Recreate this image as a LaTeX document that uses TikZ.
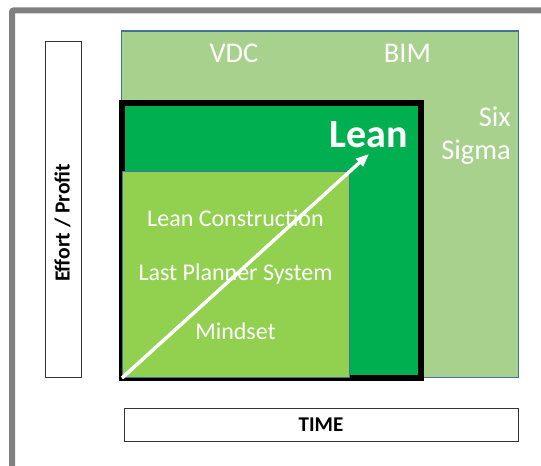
\documentclass[tikz,border=0pt]{standalone}
\usepackage{fontspec}
\setmainfont{Carlito}
\usetikzlibrary{arrows.meta}
\definecolor{frameGray}{HTML}{808080}
\definecolor{paleGreen}{HTML}{A9D18E}
\definecolor{leanGreen}{HTML}{00B050}
\definecolor{limeGreen}{HTML}{92D050}
\definecolor{edgeBlue}{HTML}{41719C}
\begin{document}
\begin{tikzpicture}[x=1pt,y=-1pt,
  labelbox/.style={draw=black!80,line width=1pt,fill=white,inner sep=0pt},
  field/.style={inner sep=0pt},
  whitetext/.style={text=white,inner sep=0pt,font=\fontsize{24}{29}\selectfont},
  bigtext/.style={text=white,inner sep=0pt,font=\fontsize{28.5}{33}\selectfont}]
\useasboundingbox (0,0) rectangle (541,466);
% outer frame (runs off the right and bottom)
\draw[frameGray,line width=6pt,rounded corners=2pt] (12,480) -- (12,10.3) -- (560,10.3);
% axis label boxes
\node[labelbox,minimum width=36.3pt,minimum height=336pt] (yaxis) at (63.15,209.5) {};
\node[rotate=90,font=\bfseries\fontsize{21.5}{24}\selectfont] (ylabel) at (62.5,223) {Effort / Profit};
\node[labelbox,minimum width=394.5pt,minimum height=33.5pt] (xaxis) at (321.25,424.75) {};
\node[font=\bfseries\fontsize{21}{24}\selectfont] (xlabel) at (321,425) {TIME};
% nested fields
\node[field,draw=edgeBlue,line width=1.2pt,fill=paleGreen,minimum width=396.8pt,minimum height=346.5pt] (outer) at (319.9,204.25) {};
\node[field,draw=black,line width=6pt,fill=leanGreen,minimum width=299pt,minimum height=275pt] (lean) at (271.5,240.5) {};
\node[field,draw=edgeBlue,line width=1pt,fill=limeGreen,minimum width=227pt,minimum height=206pt] (inner) at (235.5,274) {};
% labels
\node[bigtext] (vdc) at (234,53) {VDC};
\node[bigtext] (bim) at (407.5,53) {BIM};
\node[bigtext,align=right,anchor=north east] (six) at (511,107) {Six\\Sigma};
\node[text=white,inner sep=0pt,font=\bfseries\fontsize{40}{44}\selectfont] (leanlabel) at (369,135) {Lean};
\node[whitetext] (lc) at (235.5,218) {Lean Construction};
\node[whitetext] (lps) at (235.5,274) {Last Planner System};
\node[whitetext] (mind) at (235.5,331) {Mindset};
% growth arrow
\coordinate (start) at (122,378);
\coordinate (tip) at (369,154);
\draw[white,line width=3.5pt,-{Triangle[length=13pt,width=10pt]}] (start) -- (tip);
\end{tikzpicture}
\end{document}
